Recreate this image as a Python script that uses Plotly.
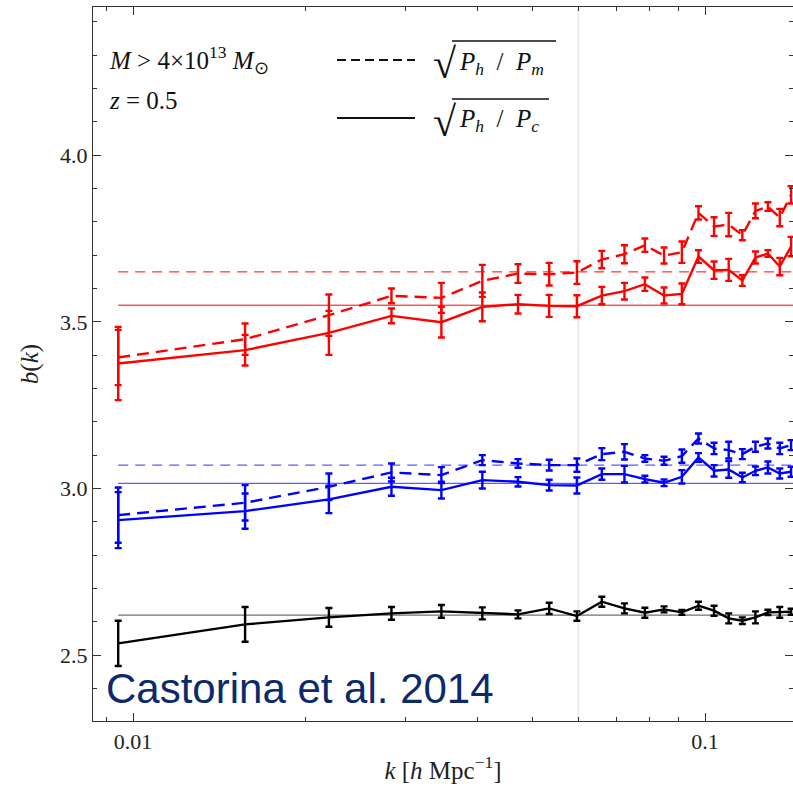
import plotly.graph_objects as go

# ---- data ----
k = [0.00942, 0.0157, 0.0220, 0.0283, 0.0346, 0.0408, 0.0471, 0.0534, 0.0597, 0.0660,
     0.0723, 0.0785, 0.0848, 0.0911, 0.0974, 0.1037, 0.1100, 0.1162, 0.1225, 0.1288,
     0.1351, 0.1414]

red_m = [3.393, 3.448, 3.520, 3.578, 3.572, 3.623, 3.645, 3.643, 3.648, 3.687,
         3.703, 3.730, 3.699, 3.709, 3.827, 3.786, 3.792, 3.760, 3.833, 3.846,
         3.813, 3.881]
red_m_err = [0.083, 0.047, 0.062, 0.022, 0.045, 0.048, 0.028, 0.034, 0.034, 0.026,
             0.027, 0.020, 0.024, 0.032, 0.020, 0.028, 0.035, 0.015, 0.022, 0.013,
             0.026, 0.026]
red_c = [3.375, 3.415, 3.467, 3.518, 3.499, 3.545, 3.553, 3.548, 3.547, 3.579,
         3.592, 3.613, 3.579, 3.584, 3.696, 3.655, 3.656, 3.624, 3.693, 3.705,
         3.666, 3.726]
red_c_err = [0.110, 0.046, 0.066, 0.022, 0.046, 0.043, 0.028, 0.033, 0.033, 0.026,
             0.025, 0.020, 0.024, 0.031, 0.019, 0.026, 0.033, 0.016, 0.018, 0.010,
             0.026, 0.029]

blue_m = [2.920, 2.957, 3.005, 3.048, 3.040, 3.085, 3.075, 3.070, 3.070, 3.103,
          3.110, 3.090, 3.083, 3.097, 3.150, 3.120, 3.115, 3.103, 3.125, 3.135,
          3.120, 3.130]
blue_m_err = [0.083, 0.053, 0.040, 0.027, 0.024, 0.015, 0.013, 0.016, 0.020, 0.018,
              0.023, 0.010, 0.012, 0.020, 0.015, 0.017, 0.025, 0.015, 0.015, 0.015,
              0.017, 0.015]
blue_c = [2.905, 2.932, 2.967, 3.005, 2.995, 3.025, 3.020, 3.010, 3.009, 3.043,
          3.043, 3.028, 3.017, 3.035, 3.093, 3.053, 3.057, 3.033, 3.053, 3.063,
          3.045, 3.050]
blue_c_err = [0.084, 0.053, 0.041, 0.027, 0.025, 0.025, 0.014, 0.016, 0.024, 0.017,
              0.025, 0.010, 0.010, 0.020, 0.013, 0.017, 0.025, 0.014, 0.013, 0.018,
              0.015, 0.015]

black_c = [2.535, 2.592, 2.613, 2.625, 2.631, 2.625, 2.622, 2.640, 2.617, 2.660,
           2.640, 2.627, 2.637, 2.628, 2.648, 2.633, 2.610, 2.603, 2.613, 2.628,
           2.628, 2.630]
black_c_err = [0.068, 0.052, 0.028, 0.019, 0.019, 0.018, 0.012, 0.017, 0.014, 0.015,
               0.015, 0.015, 0.009, 0.007, 0.012, 0.015, 0.015, 0.010, 0.018, 0.008,
               0.016, 0.009]

ref_red_m, ref_red_c = 3.65, 3.55
ref_blue_m, ref_blue_c = 3.07, 3.015
ref_black = 2.62
k_mark = 0.06

x_ticks = [0.01, 0.1]
x_ticktext = ["0.01", "0.1"]
x_minor = [0.009, 0.02, 0.03, 0.04, 0.05, 0.06, 0.07, 0.08, 0.09]
y_ticks = [2.5, 3.0, 3.5, 4.0]

RED = "#ff0000"
BLUE = "#0000ff"
BLACK = "#000000"
SERIF = "Liberation Serif"

fig = go.Figure()

# vertical marker line
fig.add_trace(go.Scatter(x=[k_mark, k_mark], y=[2.0, 5.0], mode="lines",
                         line=dict(color="#dcdcdc", width=1), hoverinfo="skip"))

# horizontal reference levels
def hline(val, color, dash, w=1.0):
    fig.add_trace(go.Scatter(x=[k[0], 0.2], y=[val, val], mode="lines",
                             line=dict(color=color, width=w, dash=dash), hoverinfo="skip"))

hline(ref_red_m, RED, "10px,7px")
hline(ref_red_c, RED, "solid")
hline(ref_blue_m, "#5c5cff", "10px,7px", 1.2)
hline(ref_blue_c, "#5c5cff", "solid", 1.2)
hline(ref_black, "#707070", "solid", 1.2)

def series(y, err, color, dash):
    fig.add_trace(go.Scatter(
        x=k, y=y, mode="lines",
        line=dict(color=color, width=2.4, dash=dash),
        error_y=dict(type="data", array=err, visible=True, color=color,
                     thickness=2.4, width=3.5),
        hoverinfo="skip"))

series(red_m, red_m_err, RED, "12px,7px")
series(red_c, red_c_err, RED, "solid")
series(blue_m, blue_m_err, BLUE, "12px,7px")
series(blue_c, blue_c_err, BLUE, "solid")
series(black_c, black_c_err, BLACK, "solid")

axis_common = dict(showline=True, linecolor="#333333", linewidth=1.3, mirror="ticks",
                   ticks="inside", tickcolor="#333333", showgrid=False, zeroline=False,
                   tickfont=dict(family=SERIF, size=22, color="#222222"))

fig.update_xaxes(type="log", range=[-2.070, -0.8462],
                 tickvals=x_ticks, ticktext=x_ticktext, ticklen=8, tickwidth=1.2,
                 minor=dict(tickvals=x_minor, ticks="inside", ticklen=4, tickcolor="#333333"),
                 title=dict(text="<i>k</i> [<i>h</i> Mpc<sup>−1</sup>]",
                            font=dict(family=SERIF, size=25, color="#222222"), standoff=8),
                 **axis_common)
fig.update_yaxes(range=[2.302, 4.445], tickvals=y_ticks, tickformat=".1f",
                 ticklen=8, tickwidth=1.2,
                 minor=dict(dtick=0.1, ticks="inside", ticklen=4, tickcolor="#333333"),
                 title=dict(text="<i>b</i>(<i>k</i>)",
                            font=dict(family=SERIF, size=25, color="#222222"), standoff=14),
                 **axis_common)

W, H = 793, 793
L, R, T, B = 93, 0, 7, 72
pw, ph = W - L - R, H - T - B

def px(x):
    return (x - L) / pw

def py(y):
    return (H - B - y) / ph

annotations = [
    dict(text="<i>M</i> > 4×10<sup>13</sup> <i>M</i><sub>⊙</sub>", x=px(107), y=py(60),
         font=dict(family=SERIF, size=25, color="#111111")),
    dict(text="<i>z</i> = 0.5", x=px(107), y=py(101),
         font=dict(family=SERIF, size=25, color="#111111")),
    dict(text="√", x=px(431), y=py(64), font=dict(family=SERIF, size=42, color="#111111")),
    dict(text="<i>P</i><sub><i>h</i></sub>  /  <i>P</i><sub><i>m</i></sub>", x=px(457), y=py(63),
         font=dict(family=SERIF, size=25, color="#111111")),
    dict(text="√", x=px(431), y=py(122), font=dict(family=SERIF, size=42, color="#111111")),
    dict(text="<i>P</i><sub><i>h</i></sub>  /  <i>P</i><sub><i>c</i></sub>", x=px(457), y=py(121),
         font=dict(family=SERIF, size=25, color="#111111")),
    dict(text="Castorina et al. 2014", x=px(104), y=py(688),
         font=dict(family="Liberation Sans", size=42, color="#0b2a6b")),
]
for a in annotations:
    a.update(xref="paper", yref="paper", xanchor="left", yanchor="middle", showarrow=False)

shapes = [
    dict(type="line", xref="paper", yref="paper", x0=px(337), x1=px(415), y0=py(60), y1=py(60),
         line=dict(color="#111111", width=2.2, dash="9px,5px")),
    dict(type="line", xref="paper", yref="paper", x0=px(337), x1=px(415), y0=py(118), y1=py(118),
         line=dict(color="#111111", width=2.2)),
    dict(type="line", xref="paper", yref="paper", x0=px(452), x1=px(556), y0=py(41), y1=py(41),
         line=dict(color="#111111", width=1.4)),
    dict(type="line", xref="paper", yref="paper", x0=px(452), x1=px(549), y0=py(99), y1=py(99),
         line=dict(color="#111111", width=1.4)),
]

fig.update_layout(width=W, height=H, margin=dict(l=L, r=R, t=T, b=B, autoexpand=False),
                  paper_bgcolor="white", plot_bgcolor="white", showlegend=False,
                  annotations=annotations, shapes=shapes)

fig.write_html("out.html")
